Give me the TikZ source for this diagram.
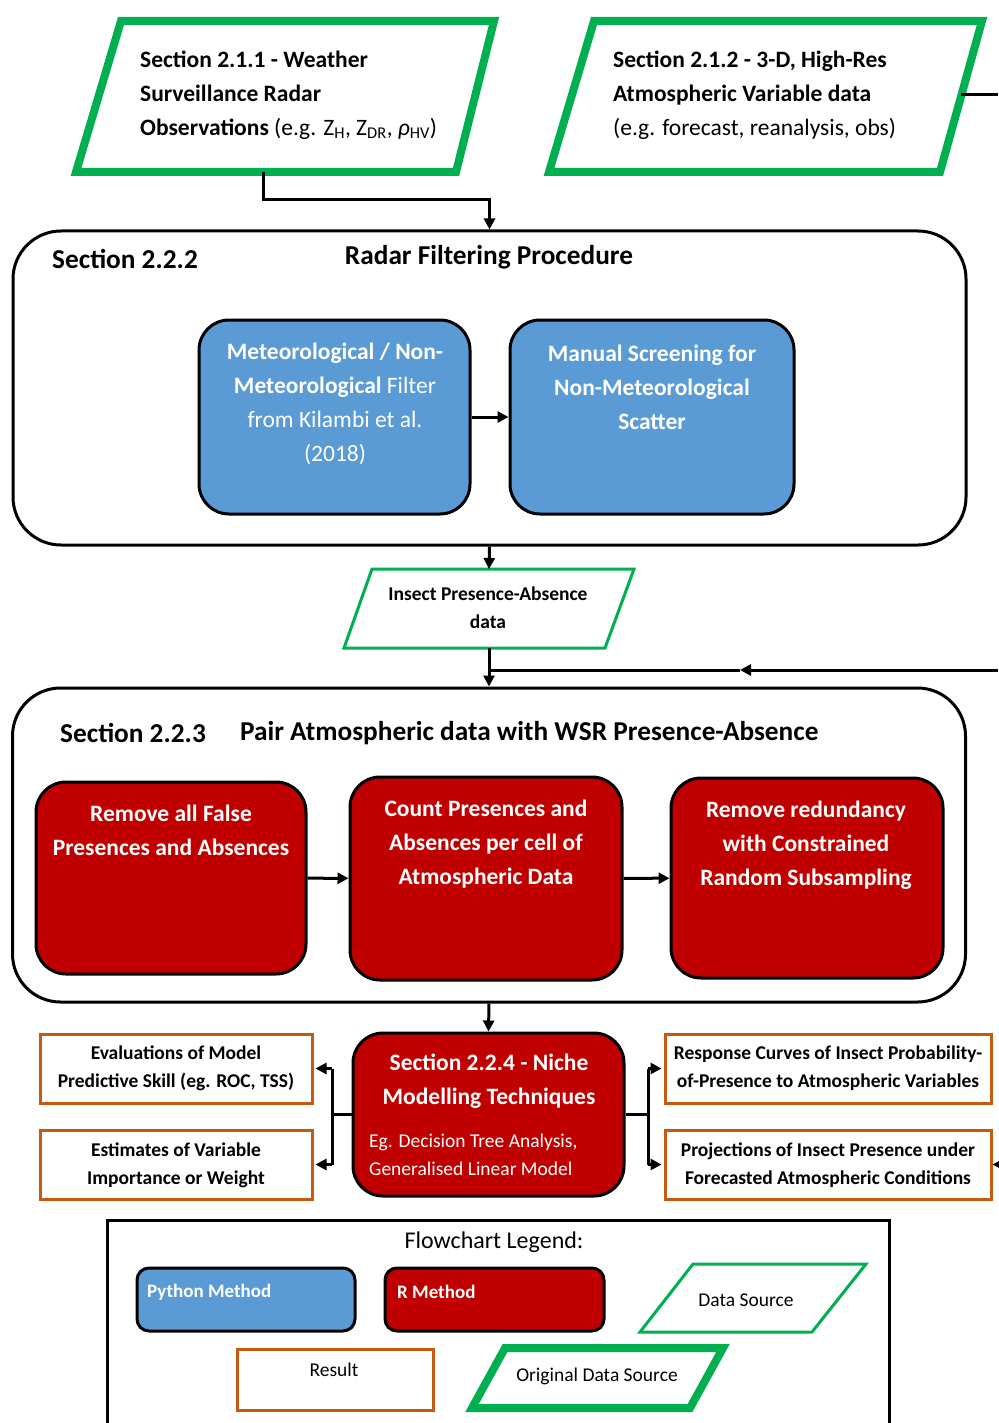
\documentclass[tikz,border=0pt]{standalone}
\usepackage{fontspec}
\setmainfont{Carlito}
\usetikzlibrary{arrows.meta}
\definecolor{cgreen}{HTML}{00B050}
\definecolor{cblue}{HTML}{5B9BD5}
\definecolor{cred}{HTML}{C00000}
\definecolor{corange}{HTML}{C55A11}
\begin{document}
\begin{tikzpicture}[x=1pt,y=-1pt,
  conn/.style={line width=3pt,-{Triangle[length=11pt,width=11pt]}},
  plain/.style={line width=3pt},
  frame/.style={draw=black,line width=3pt,rounded corners=48pt,minimum width=953pt,minimum height=314pt},
  pybox/.style={draw=black,fill=cblue,line width=3pt,rounded corners=30pt},
  rbox/.style={draw=black,fill=cred,line width=3pt,rounded corners=30pt},
  resbox/.style={draw=corange,line width=3pt,minimum height=69pt},
  txt/.style={inner sep=0pt,align=center},
  big/.style={font=\bfseries\fontsize{23.5}{34}\selectfont},
  head/.style={font=\bfseries\fontsize{27.3}{30}\selectfont},
  mid/.style={font=\bfseries\fontsize{19.5}{28}\selectfont},
  small/.style={font=\fontsize{19.5}{22}\selectfont},
]
\useasboundingbox (0,0) rectangle (998,1423);

% ---- original data sources
\draw[cgreen,line width=8pt] (121,21) -- (494,21) -- (456,172) -- (76,172) -- cycle;
\node[txt,align=left,anchor=west,big] (src1) at (140,95)
  {Section 2.1.1 - Weather\\Surveillance Radar\\Observations {\mdseries (e.g. Z\textsubscript{H}, Z\textsubscript{DR}, {\itshape ρ}\textsubscript{HV})}};
\draw[cgreen,line width=8pt] (594,21) -- (982,21) -- (940,172) -- (549,172) -- cycle;
\node[txt,align=left,anchor=west,big] (src2) at (613,95)
  {Section 2.1.2 - 3-D, High-Res\\Atmospheric Variable data\\{\mdseries (e.g. forecast, reanalysis, obs)}};
\coordinate (p1b) at (263,172);
\coordinate (e1) at (263,200);
\coordinate (p2e) at (961,95);
\coordinate (rout) at (998,95);

% ---- radar filtering
\node[frame] (radar) at (489.5,388) {};
\node[txt,anchor=west,head] (radarsec) at (52,259) {Section 2.2.2};
\node[txt,head] (radart) at (489,257) {Radar Filtering Procedure};
\node[pybox,minimum width=271pt,minimum height=194pt] (b1) at (334.5,417) {};
\node[txt,big,text=white] (b1t) at (335,404)
  {Meteorological / Non-\\Meteorological {\mdseries Filter}\\{\mdseries from Kilambi et al.}\\{\mdseries (2018)}};
\node[pybox,minimum width=284pt,minimum height=194pt] (b2) at (652,417) {};
\node[txt,big,text=white] (b2t) at (652,387) {Manual Screening for\\Non-Meteorological\\Scatter};
\draw[conn] (b1) -- (b2);

% ---- insect data
\draw[cgreen,line width=3pt] (372,569) -- (634,569) -- (605,648) -- (344,648) -- cycle;
\node[txt,mid] (ins) at (488,608) {Insect Presence-Absence\\data};
\coordinate (instop) at (489,569);
\coordinate (insbot) at (489,648);
\draw[conn] (p1b) -- (e1) -| (radar.north);
\draw[plain] (p2e) -- (rout);
\draw[conn] (radar.south) -- (instop);

% ---- pair
\node[frame] (pair) at (489,845) {};
\coordinate (rin) at (998,670);
\coordinate (amid) at (740,670);
\coordinate (j1) at (489,670);
\draw[conn] (insbot) -- (pair.north);
\draw[conn] (rin) -- (amid);
\draw[plain] (amid) -- (j1);
\node[txt,anchor=west,head] (pairsec) at (60,733) {Section 2.2.3};
\node[txt,anchor=west,head] (pairt) at (240,733) {Pair Atmospheric data with WSR Presence-Absence};
\node[rbox,minimum width=270pt,minimum height=192pt] (r1) at (171,878) {};
\node[txt,big,text=white] (r1t) at (171,830) {Remove all False\\Presences and Absences};
\node[rbox,minimum width=272pt,minimum height=203pt] (r2) at (486,878.5) {};
\node[txt,big,text=white] (r2t) at (486,844) {Count Presences and\\Absences per cell of\\Atmospheric Data};
\node[rbox,minimum width=272pt,minimum height=200pt] (r3) at (807,878) {};
\node[txt,big,text=white] (r3t) at (806,845) {Remove redundancy\\with Constrained\\Random Subsampling};
\draw[conn] (r1) -- (r2);
\draw[conn] (r2) -- (r3);

% ---- niche modelling
\node[rbox,minimum width=271pt,minimum height=163pt] (niche) at (488.5,1114.5) {};
\draw[conn] (pair.south) -- (niche.north);
\node[txt,big,text=white] (nt) at (489,1081) {Section 2.2.4 - Niche\\Modelling Techniques};
\node[txt,align=left,anchor=west,text=white,font=\fontsize{19.5}{28}\selectfont] (nt2) at (369,1155)
  {Eg. Decision Tree Analysis,\\Generalised Linear Model};

\node[resbox,minimum width=272pt] (o1) at (176,1068.5) {};
\node[txt,mid] (o1t) at (176,1068) {Evaluations of Model\\Predictive Skill (eg. ROC, TSS)};
\node[resbox,minimum width=272pt] (o2) at (176,1164.5) {};
\node[txt,mid] (o2t) at (176,1165) {Estimates of Variable\\Importance or Weight};
\node[resbox,minimum width=326pt] (o3) at (828,1068.5) {};
\node[txt,mid] (o3t) at (828,1068) {Response Curves of Insect Probability-\\of-Presence to Atmospheric Variables};
\node[resbox,minimum width=326pt] (o4) at (828,1164.5) {};
\node[txt,mid] (o4t) at (828,1165) {Projections of Insect Presence under\\Forecasted Atmospheric Conditions};

\coordinate (lj) at (332,1114.5);
\coordinate (lt) at (332,1068.5);
\coordinate (lb) at (332,1164.5);
\coordinate (rj) at (648,1114.5);
\coordinate (rt) at (648,1068.5);
\coordinate (rb) at (648,1164.5);
\draw[plain] (niche.west) -- (lj);
\draw[plain] (lt) -- (lb);
\draw[conn,shorten >=2pt] (lt) -- (o1.east);
\draw[conn,shorten >=2pt] (lb) -- (o2.east);
\draw[plain] (niche.east) -- (rj);
\draw[plain] (rt) -- (rb);
\draw[conn,shorten >=2pt] (rt) -- (o3.west);
\draw[conn,shorten >=2pt] (rb) -- (o4.west);
\coordinate (rin2) at (1000,1164.5);
\draw[conn] (rin2) -- (o4.east);

% ---- legend
\node[draw=black,line width=3pt,minimum width=782pt,minimum height=220pt] (leg) at (498,1330) {};
\node[txt,font=\fontsize{24}{26}\selectfont] (legt) at (494,1242) {Flowchart Legend:};
\node[pybox,rounded corners=12pt,minimum width=218pt,minimum height=63pt] (lpy) at (246,1299.5) {};
\node[txt,anchor=west,text=white,font=\bfseries\fontsize{19}{22}\selectfont] (lpyt) at (147,1292) {Python Method};
\node[rbox,rounded corners=12pt,minimum width=219pt,minimum height=63pt] (lr) at (494.5,1299.5) {};
\node[txt,anchor=west,text=white,font=\bfseries\fontsize{19}{22}\selectfont] (lrt) at (397,1292) {R Method};
\draw[cgreen,line width=3pt] (693,1264) -- (866,1264) -- (812,1332) -- (640,1332) -- cycle;
\node[txt,small] (lds) at (746,1300) {Data Source};
\node[resbox,minimum width=196pt,minimum height=61pt] (lres) at (335,1379.5) {};
\node[txt,small] (lrest) at (334,1370) {Result};
\draw[cgreen,line width=8pt] (505,1348) -- (723,1348) -- (690,1408) -- (472,1408) -- cycle;
\node[txt,small] (lods) at (597,1376) {Original Data Source};
\end{tikzpicture}
\end{document}
